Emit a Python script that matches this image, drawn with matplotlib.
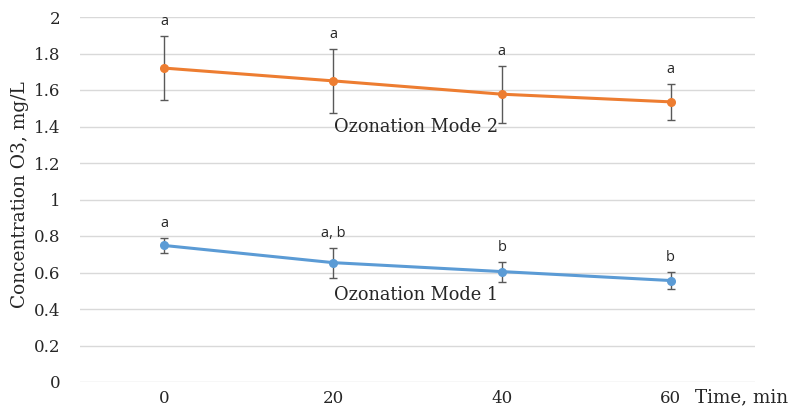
import matplotlib.pyplot as plt
import numpy as np

# data
time_min = [0, 20, 40, 60]
mode2_mean = [1.72, 1.65, 1.577, 1.535]
mode2_err = [0.175, 0.175, 0.156, 0.10]
mode2_letters = ["a", "a", "a", "a"]
mode1_mean = [0.748, 0.654, 0.605, 0.556]
mode1_err = [0.043, 0.082, 0.055, 0.045]
mode1_letters = ["a", "a, b", "b", "b"]
y_ticks = [0, 0.2, 0.4, 0.6, 0.8, 1, 1.2, 1.4, 1.6, 1.8, 2]
y_tick_labels = ["0", "0.2", "0.4", "0.6", "0.8", "1", "1.2", "1.4", "1.6", "1.8", "2"]

ORANGE = "#ED7D31"
BLUE = "#5B9BD5"
SERIF = "DejaVu Serif"
SANS = "Open Sans"
TXT = "#262626"

fig = plt.figure(figsize=(7.88, 4.07), dpi=100)
ax = fig.add_axes([80 / 788, 25 / 407, 675 / 788, 365 / 407])

for mean, err, letters, color in [
    (mode2_mean, mode2_err, mode2_letters, ORANGE),
    (mode1_mean, mode1_err, mode1_letters, BLUE),
]:
    ax.errorbar(time_min, mean, yerr=err, color=color, lw=2.2, marker="o", ms=5.5,
                ecolor="#595959", elinewidth=1.0, capsize=3, capthick=1.0, zorder=3)
    for x, m, e, lab in zip(time_min, mean, err, letters):
        ax.annotate(lab, (x, m + e), xytext=(0, 5), textcoords="offset points",
                    ha="center", va="bottom", fontsize=10.5, family=SANS, color=TXT)

ax.text(29.8, 1.40, "Ozonation Mode 2", ha="center", va="center", fontsize=12.8,
        family=SERIF, color=TXT)
ax.text(29.8, 0.475, "Ozonation Mode 1", ha="center", va="center", fontsize=12.8,
        family=SERIF, color=TXT)

ax.set_xlim(-10, 70)
ax.set_ylim(0, 2)
ax.set_xticks(time_min)
ax.set_xticklabels([str(t) for t in time_min], family=SERIF, fontsize=12, color=TXT)
ax.set_yticks(y_ticks)
ax.set_yticklabels(y_tick_labels, family=SERIF, fontsize=12, color=TXT)
ax.tick_params(length=0, axis="y", pad=14)
ax.tick_params(length=0, axis="x", pad=6)
ax.grid(True, axis="y", color="#d9d9d9", lw=1.0, zorder=0)
ax.set_axisbelow(True)
for s in ax.spines.values():
    s.set_visible(False)

fig.text(20 / 788, 1 - 195 / 407, "Concentration O3, mg/L", family=SERIF, fontsize=13.4,
         color=TXT, rotation=90, ha="center", va="center")
fig.text(695 / 788, 10 / 407, "Time, min", family=SERIF, fontsize=13.2, color=TXT,
         ha="left", va="center")

fig.savefig("out.png", dpi=100)
